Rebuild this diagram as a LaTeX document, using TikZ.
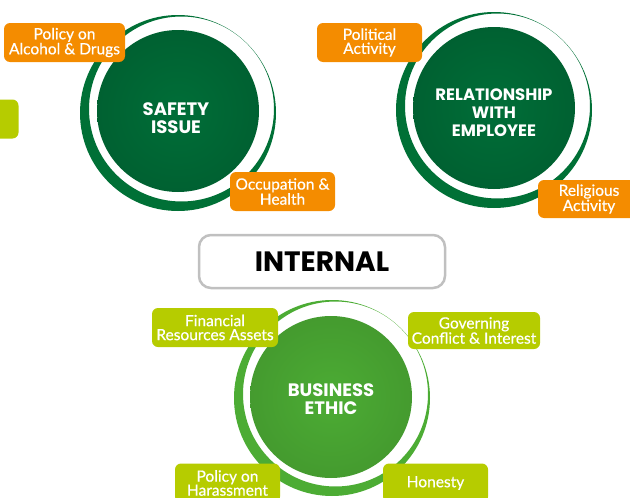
\documentclass[tikz,border=0pt]{standalone}
\usepackage{fontspec}
\setmainfont{Lato}[FakeBold=0.5]
\newfontfamily\titlefont{Poppins}
\usetikzlibrary{positioning}

\definecolor{darkgreen}{RGB}{0,110,56}
\definecolor{ringgreen}{RGB}{0,112,54}
\definecolor{lightgreen}{RGB}{76,172,52}
\definecolor{orangebox}{RGB}{244,140,0}
\definecolor{limebox}{RGB}{182,204,0}
\definecolor{framegray}{RGB}{192,192,192}

\begin{document}
\begin{tikzpicture}[x=1pt, y=-1pt]
	\tikzstyle{hub}=[circle, minimum size=162pt, inner sep=0pt, shading=radial]
	\tikzstyle{hubtext}=[align=center, text=white, font=\titlefont\bfseries\fontsize{17}{18}\selectfont]
	\tikzstyle{topic}=[rectangle, rounded corners=6pt, minimum height=39pt, inner sep=0pt, align=center, text=white, font=\fontsize{15.5}{14}\selectfont]
	\tikzstyle{orange}=[topic, fill=orangebox]
	\tikzstyle{lime}=[topic, fill=limebox]
	
	\useasboundingbox (0,0) rectangle (630,498);
	\clip (0,0) rectangle (630,498);
	
	% crescent rings
	\fill[ringgreen, even odd rule] (178,113) circle (98pt) (181.5,109) circle (92.5pt);
	\fill[ringgreen, even odd rule] (494,110) circle (98pt) (497.5,106) circle (92.5pt);
	\fill[lightgreen, even odd rule] (332,398) circle (98pt) (335.5,394) circle (92.5pt);
	
	\node[hub, inner color=darkgreen, outer color=darkgreen!88!black] (safety) at (178,111) {};
	\node[hub, inner color=darkgreen, outer color=darkgreen!88!black] (relation) at (494,108) {};
	\node[hub, inner color=lightgreen, outer color=lightgreen!90!black] (ethic) at (331,397) {};
	
	\node[hubtext, font=\titlefont\bfseries\fontsize{18}{18}\selectfont] (safetytxt) at (176,118) {SAFETY\\ISSUE};
	\node[hubtext, font=\titlefont\bfseries\fontsize{16.5}{18}\selectfont] (relationtxt) at (494,113) {RELATIONSHIP\\WITH\\EMPLOYEE};
	\node[hubtext, font=\titlefont\bfseries\fontsize{18}{18}\selectfont] (ethictxt) at (331,399) {BUSINESS\\ETHIC};
	
	\node[rectangle, rounded corners=12pt, draw=framegray, line width=2.5pt, fill=white, minimum width=246pt, minimum height=53pt, font=\titlefont\bfseries\fontsize{28}{28}\selectfont] (internal) at (322,261.5) {INTERNAL};
	
	\node[orange, minimum width=121pt] (alcohol) at (64.5,42.5) {Policy on\\Alcohol \& Drugs};
	\node[orange, minimum width=105pt] (occup) at (282.5,191.5) {Occupation \&\\Health};
	\node[orange, minimum width=105pt] (politic) at (369.5,42.5) {Political\\Activity};
	\node[orange, minimum width=102pt, minimum height=38pt] (religi) at (589,199) {Religious\\Activity};
	
	\node[lime, minimum width=105pt] (hidden) at (-34,119) {};
	\node[lime, minimum width=126pt] (fin) at (215,327.5) {Financial\\Resources Assets};
	\node[lime, minimum width=132pt, minimum height=37pt] (govern) at (474,330.5) {Governing\\Conflict \& Interest};
	\node[lime, minimum width=105pt] (harass) at (227.5,483) {Policy on\\Harassment};
	\node[lime, minimum width=105pt] (honest) at (435.5,483) {Honesty};
	
\end{tikzpicture}
\end{document}
